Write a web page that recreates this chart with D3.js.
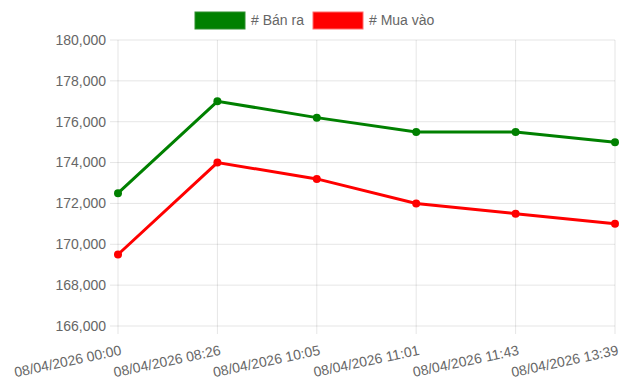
<!DOCTYPE html>
<html>
<head>
<meta charset="utf-8">
<script src="https://cdn.jsdelivr.net/npm/d3@7"></script>
<style>
  body { margin: 0; background: #fff; }
  svg text { font-family: "Liberation Sans", Arial, sans-serif; }
</style>
</head>
<body>
<svg id="chart" width="624" height="381"></svg>
<script>
'use strict';

const labels = ["08/04/2026 00:00", "08/04/2026 08:26", "08/04/2026 10:05",
  "08/04/2026 11:01", "08/04/2026 11:43", "08/04/2026 13:39"];
const banRa = [172500, 177000, 176200, 175500, 175500, 175000];
const muaVao = [169500, 174000, 173200, 172000, 171500, 171000];
const yTicks = [166000, 168000, 170000, 172000, 174000, 176000, 178000, 180000];

const series = [
  { name: "# Bán ra", values: banRa, color: "green" },
  { name: "# Mua vào", values: muaVao, color: "red" }
];

let svg = d3.select("#chart"),
  plotLeft = 118, plotRight = 615, plotTop = 40, plotBottom = 326;

let x = d3.scalePoint().domain(labels).range([plotLeft, plotRight]);
let y = d3.scaleLinear().domain([166000, 180000]).range([plotBottom, plotTop]);

// grid
let grid = svg.append("g");
grid.selectAll(".hg").data(yTicks).enter().append("line")
  .attr("x1", plotLeft - 8).attr("x2", plotRight)
  .attr("y1", d => y(d)).attr("y2", d => y(d))
  .attr("stroke", "rgba(0,0,0,0.1)");
grid.selectAll(".vg").data(labels).enter().append("line")
  .attr("x1", d => x(d)).attr("x2", d => x(d))
  .attr("y1", plotTop).attr("y2", plotBottom + 8)
  .attr("stroke", "rgba(0,0,0,0.1)");

// y labels
let fmt = d3.format(",");
svg.append("g").selectAll("text").data(yTicks).enter().append("text")
  .attr("x", plotLeft - 12).attr("y", d => y(d))
  .attr("dy", "0.35em")
  .attr("text-anchor", "end")
  .attr("font-size", 14)
  .attr("fill", "#666")
  .text(d => fmt(d));

// x labels
svg.append("g").selectAll("text").data(labels).enter().append("text")
  .attr("transform", d => "translate(" + (x(d) + 2) + "," + (plotBottom + 19) + ") rotate(-12)")
  .attr("dy", "0.7em")
  .attr("text-anchor", "end")
  .attr("font-size", 14)
  .attr("fill", "#666")
  .text(d => d);

// lines
let line = d3.line().x((d, i) => x(labels[i])).y(d => y(d));
series.forEach(function (s) {
  svg.append("path")
    .datum(s.values)
    .attr("d", line)
    .attr("fill", "none")
    .attr("stroke", s.color)
    .attr("stroke-width", 3);
  svg.append("g").selectAll("circle").data(s.values).enter().append("circle")
    .attr("cx", (d, i) => x(labels[i]))
    .attr("cy", d => y(d))
    .attr("r", 4)
    .attr("fill", s.color);
});

// legend
let legendX = [195, 313];
series.forEach(function (s, i) {
  let lg = svg.append("g").attr("transform", "translate(" + legendX[i] + ",12)");
  lg.append("rect").attr("width", 50).attr("height", 17)
    .attr("fill", s.color).attr("stroke", s.color === "red" ? "#ff6b6b" : "#2f8f2f").attr("stroke-width", 1);
  lg.append("text").attr("x", 56).attr("y", 8.5).attr("dy", "0.35em")
    .attr("font-size", 14).attr("fill", "#666").text(s.name);
});
</script>
</body>
</html>
